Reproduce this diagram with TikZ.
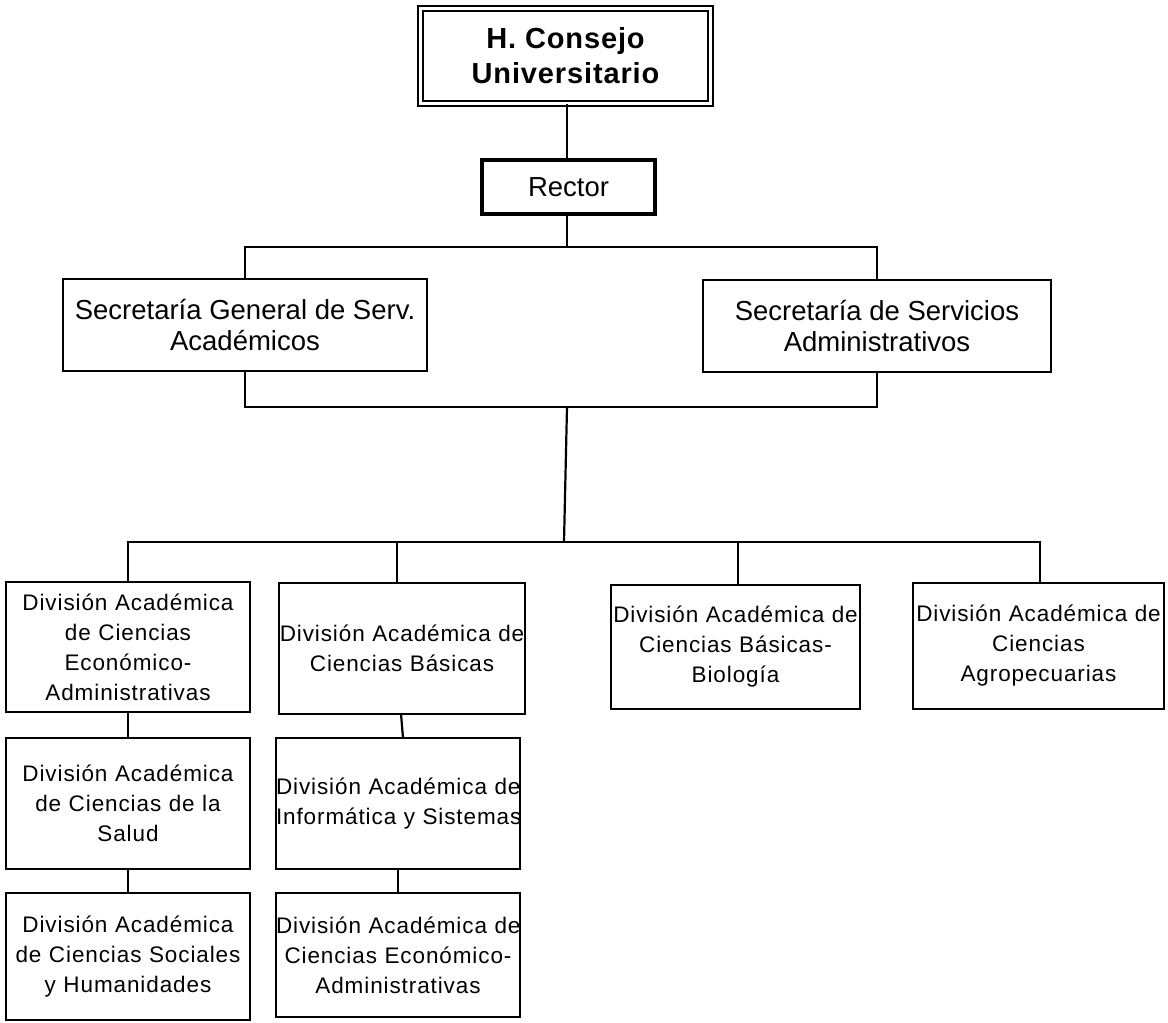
\documentclass[tikz,border=0pt]{standalone}
\usepackage{fontspec}
\setmainfont{Liberation Sans}
\newfontfamily\divfont[LetterSpace=4]{Liberation Sans}
\newfontfamily\headfont[LetterSpace=3]{Liberation Sans}
\begin{document}
\begin{tikzpicture}[x=1pt,y=-1pt,
  every node/.style={inner sep=0pt, outer sep=0pt},
  box/.style={draw, line width=2.2pt, rectangle, align=center},
  secbox/.style={box, font=\fontsize{27.5}{31}\selectfont},
  division/.style={box, font=\divfont\fontsize{22.5}{30}\selectfont},
  link/.style={line width=2.2pt}]
\useasboundingbox (0,0) rectangle (1168,1023);

% governing bodies
\node[draw, double, double distance=3pt, line width=2pt,
      minimum width=290pt, minimum height=95pt, align=center,
      font=\headfont\bfseries\fontsize{29}{35}\selectfont] (consejo) at (565.5,56)
      {H. Consejo\\Universitario};
\node[draw, line width=4pt, minimum width=173pt, minimum height=54pt,
      font=\fontsize{27.5}{30}\selectfont] (rector) at (568.5,187) {Rector};

% secretariats
\node[secbox, minimum width=364pt, minimum height=92pt] (secA) at (245,325)
      {Secretaría General de Serv.\\Académicos};
\node[secbox, minimum width=348pt, minimum height=92pt] (secB) at (877,326)
      {Secretaría de Servicios\\Administrativos};

% academic divisions (each line boxed so it never breaks)
\node[division, text width=244pt, minimum height=130pt] (b1) at (128,647)
      {\mbox{División Académica}\\\mbox{de Ciencias}\\\mbox{Económico-}\\\mbox{Administrativas}};
\node[division, text width=246pt, minimum height=131pt] (b2) at (402,648.5)
      {\mbox{División Académica de}\\\mbox{Ciencias Básicas}\\[22pt]};
\node[division, text width=249pt, minimum height=124pt] (b3) at (735.5,647)
      {\mbox{División Académica de}\\\mbox{Ciencias Básicas-}\\\mbox{Biología}};
\node[division, text width=251pt, minimum height=126pt] (b4) at (1038.5,646)
      {\mbox{División Académica de}\\\mbox{Ciencias}\\\mbox{Agropecuarias}};
\node[division, text width=244pt, minimum height=131pt] (b5) at (128,803.5)
      {\mbox{División Académica}\\\mbox{de Ciencias de la}\\\mbox{Salud}};
\node[division, text width=244pt, minimum height=131pt] (b6) at (398,803.5)
      {\mbox{División Académica de}\\\mbox{Informática y Sistemas}\\[22pt]};
\node[division, text width=244pt, minimum height=127pt] (b7) at (128,956.5)
      {\mbox{División Académica}\\\mbox{de Ciencias Sociales}\\\mbox{y Humanidades}};
\node[division, text width=244pt, minimum height=124pt] (b8) at (398,955)
      {\mbox{División Académica de}\\\mbox{Ciencias Económico-}\\\mbox{Administrativas}};

% junction points of the tree
\coordinate (h1) at (567,247);
\coordinate (h2) at (567,407);
\coordinate (h3) at (564,542);

% connectors
\draw[link] (h1 |- consejo.south) -- (h1 |- rector.north);
\draw[link] (h1 |- rector.south) -- (h1);
\draw[link] (secA.north) -- (secA.north |- h1) -- (secB.north |- h1) -- (secB.north);
\draw[link] (secA.south) -- (secA.south |- h2) -- (secB.south |- h2) -- (secB.south);
\draw[link] (h2) -- (h3);
\draw[link] (b1.north) -- (b1.north |- h3) -- ([xshift=1.5pt]b4.north |- h3) -- ([xshift=1.5pt]b4.north);
\draw[link] ([xshift=-5pt]b2.north) -- ([xshift=-5pt]b2.north |- h3);
\draw[link] ([xshift=2.5pt]b3.north) -- ([xshift=2.5pt]b3.north |- h3);
\draw[link] (b1.south) -- (b5.north);
\draw[link] (b5.south) -- (b7.north);
\draw[link] ([xshift=-1pt]b2.south) -- ([xshift=5pt]b6.north);
\draw[link] (b6.south) -- (b8.north);
\end{tikzpicture}
\end{document}
